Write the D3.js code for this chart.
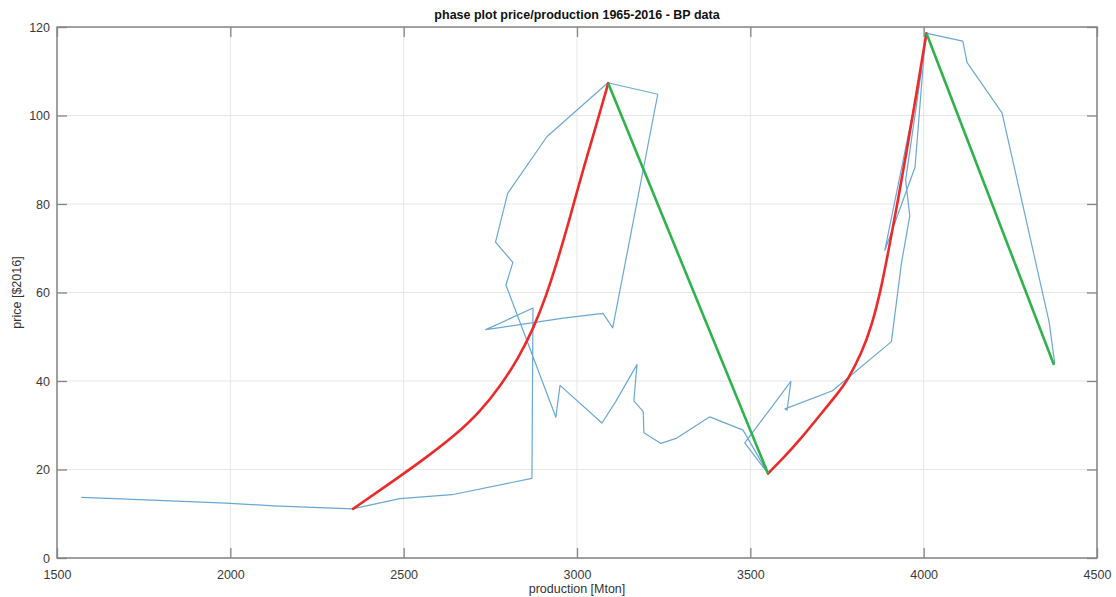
<!DOCTYPE html>
<html>
<head>
<meta charset="utf-8">
<script src="https://cdn.jsdelivr.net/npm/d3@7"></script>
<style>
  html, body { margin: 0; padding: 0; background: #fff; }
  svg { display: block; font-family: "Liberation Sans", Arial, sans-serif; }
</style>
</head>
<body>
<svg id="chart" width="1116" height="597"></svg>
<script>
// ---- data ----
const years = [1965,1966,1967,1968,1969,1970,1971,1972,1973,1974,1975,1976,1977,1978,1979,1980,
  1981,1982,1983,1984,1985,1986,1987,1988,1989,1990,1991,1992,1993,1994,1995,1996,1997,1998,1999,
  2000,2001,2002,2003,2004,2005,2006,2007,2008,2009,2010,2011,2012,2013,2014,2015,2016];
const production = [1570,1702,1826,1988,2124,2352,2489,2639,2870,2873,2737,2961,3075,3103,3233,3089,
  2913,2800,2765,2815,2795,2939,2951,3072,3112,3173,3164,3191,3193,3242,3288,3383,3479,3551,3484,
  3617,3606,3600,3737,3907,3936,3960,3948,3994,3888,3975,4006,4113,4125,4226,4362,4378];
const price = [13.7,13.3,12.9,12.4,11.8,11.1,13.4,14.3,18.0,56.5,51.6,54.2,55.3,52.0,104.8,107.4,
  95.2,82.4,71.4,66.8,61.7,31.8,39.0,30.5,35.4,43.7,35.5,33.1,28.3,25.9,27.1,31.9,28.9,19.1,26.0,
  39.9,33.4,33.7,37.8,48.9,66.7,77.3,85.4,110.4,69.5,88.3,118.6,116.8,112.0,100.6,53.3,44.0];

// rising fits (red)
const riseA_x = [2354,2450,2550,2650,2720,2780,2830,2875,2910,2945,2980,3020,3060,3090];
const riseA_y = [11.1,16.3,21.8,27.8,33.0,39.0,45.0,52.0,59.0,67.5,77.0,88.5,99.0,107.3];
const riseB_x = [3551,3600,3643,3701,3750,3781,3822,3850,3875,3900,3925,3950,3975,4008];
const riseB_y = [19.1,23.0,26.7,32.3,37.0,40.2,46.5,52.5,60.0,70.0,80.5,91.5,103.0,118.6];
// falling fits (green)
const fallA_x = [3090,3551];
const fallA_y = [107.3,19.1];
const fallB_x = [4008,4376];
const fallB_y = [118.6,43.6];

const xTicks = [1500,2000,2500,3000,3500,4000,4500];
const yTicks = [0,20,40,60,80,100,120];

const titleText = "phase plot price/production 1965-2016 - BP data";
const xLabel = "production [Mton]";
const yLabel = "price [$2016]";

// ---- layout ----
const svg = d3.select("#chart");
const L = 57, R = 1097, T = 27, B = 558;
const x = d3.scaleLinear().domain([1500,4500]).range([L,R]);
const y = d3.scaleLinear().domain([0,120]).range([B,T]);

// grid
const grid = svg.append("g");
grid.selectAll("line.gx").data(xTicks).join("line")
  .attr("x1", d => x(d)).attr("x2", d => x(d)).attr("y1", T).attr("y2", B)
  .attr("stroke", "#e6e6e6").attr("stroke-width", 1);
grid.selectAll("line.gy").data(yTicks).join("line")
  .attr("y1", d => y(d)).attr("y2", d => y(d)).attr("x1", L).attr("x2", R)
  .attr("stroke", "#e6e6e6").attr("stroke-width", 1);

// data lines
const pts = (xs, ys) => xs.map((v,i) => [v, ys[i]]);
const line = d3.line().x(d => x(d[0])).y(d => y(d[1]));
const curve = d3.line().x(d => x(d[0])).y(d => y(d[1])).curve(d3.curveBasis);

svg.append("path").attr("d", line(pts(production, price)))
  .attr("fill","none").attr("stroke","#6aa8d4").attr("stroke-width",1.2).attr("stroke-linejoin","round");

[[riseA_x,riseA_y],[riseB_x,riseB_y]].forEach(([xs,ys]) => {
  svg.append("path").attr("d", curve(pts(xs,ys)))
    .attr("fill","none").attr("stroke","#ec2a2a").attr("stroke-width",2.6).attr("stroke-linecap","round");
});
[[fallA_x,fallA_y],[fallB_x,fallB_y]].forEach(([xs,ys]) => {
  svg.append("path").attr("d", line(pts(xs,ys)))
    .attr("fill","none").attr("stroke","#2fb24c").attr("stroke-width",2.6);
});

// axes (MATLAB-like inward ticks, box)
const axColor = "#858585";
const styleAxis = g => {
  g.select(".domain").remove();
  g.selectAll(".tick line").attr("stroke", axColor).attr("stroke-width", 1.3);
  g.selectAll(".tick text").attr("fill", "#3a3a3a").style("font-size", "12.5px");
};
svg.append("g").attr("transform", `translate(0,${B})`)
  .call(d3.axisBottom(x).tickValues(xTicks).tickSizeInner(-10).tickSizeOuter(0).tickPadding(8).tickFormat(d3.format("d")))
  .call(styleAxis).call(g => g.selectAll(".tick text").attr("dy", "1.0em"));
svg.append("g").attr("transform", `translate(0,${T})`)
  .call(d3.axisTop(x).tickValues(xTicks).tickSizeInner(-10).tickSizeOuter(0).tickFormat(""))
  .call(styleAxis);
svg.append("g").attr("transform", `translate(${L},0)`)
  .call(d3.axisLeft(y).tickValues(yTicks).tickSizeInner(-10).tickSizeOuter(0).tickPadding(6).tickFormat(d3.format("d")))
  .call(styleAxis).call(g => g.selectAll(".tick text").attr("x", -7));
svg.append("g").attr("transform", `translate(${R},0)`)
  .call(d3.axisRight(y).tickValues(yTicks).tickSizeInner(-10).tickSizeOuter(0).tickFormat(""))
  .call(styleAxis);

svg.append("rect").attr("x", L).attr("y", T).attr("width", R-L).attr("height", B-T)
  .attr("fill","none").attr("stroke", axColor).attr("stroke-width", 1.5);

// labels
svg.append("text").attr("x", (L+R)/2).attr("y", 19).attr("text-anchor","middle")
  .style("font-size","12.5px").style("font-weight","bold").attr("fill","#111").text(titleText);
svg.append("text").attr("x", (L+R)/2).attr("y", 593).attr("text-anchor","middle")
  .style("font-size","12.5px").attr("fill","#333").text(xLabel);
svg.append("text").attr("transform", `translate(21,${(T+B)/2}) rotate(-90)`).attr("text-anchor","middle")
  .style("font-size","12.5px").attr("fill","#333").text(yLabel);
</script>
</body>
</html>
